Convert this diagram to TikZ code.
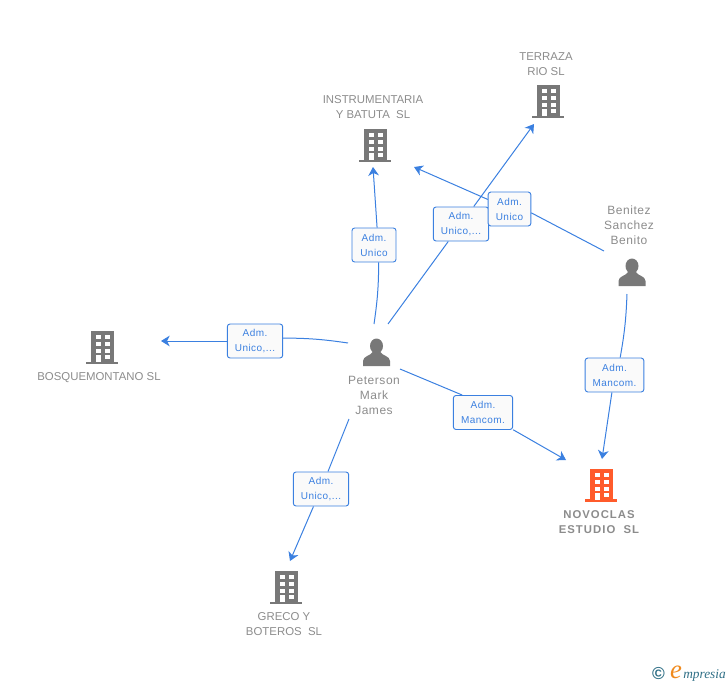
\documentclass[tikz,border=0pt]{standalone}
\usepackage{fontspec}
\setmainfont{Liberation Sans}
\newfontfamily\logofont{Liberation Serif}
\usetikzlibrary{arrows.meta}
\definecolor{linkblue}{HTML}{3B80E0}
\definecolor{icongray}{HTML}{787878}
\definecolor{textgray}{HTML}{8C8C8C}
\definecolor{iconred}{HTML}{FF5B2B}
\definecolor{logoteal}{HTML}{2F6F86}
\definecolor{logoorange}{HTML}{F08A1D}
\tikzset{
  pics/building/.style={code={
    \fill[#1] (-11.5,-16) rectangle (11.5,15);
    \fill[#1] (-16,14.5) rectangle (16,17);
    \foreach \wy in {-12,-5,2} {
      \fill[white] (-6.5,\wy) rectangle (-1.5,\wy+4);
      \fill[white] (2.5,\wy) rectangle (7.5,\wy+4);
    }
    \fill[white] (-6.5,8) rectangle (-1.5,15);
    \fill[white] (2.5,8) rectangle (7.5,12);
  }},
  pics/person/.style={code={
    \fill[icongray] (0,-6) ellipse [x radius=6.5, y radius=7.5];
    \fill[icongray] (-13.5,14) -- (-13.5,9) .. controls (-13.5,4) and (-6,4) .. (-4,0)
      -- (4,0) .. controls (6,4) and (13.5,4) .. (13.5,9) -- (13.5,14) -- cycle;
  }},
  nametext/.style={text=textgray, font=\fontsize{8.55pt}{11.25pt}\selectfont, align=center, inner sep=0pt},
  persontext/.style={nametext, font=\fontsize{9pt}{11.25pt}\selectfont\addfontfeature{LetterSpace=4.5}},
  role/.style={draw=linkblue, fill=black!2, rounded corners=2pt, line width=0.7pt, text=linkblue,
    font=\fontsize{7.5pt}{11.25pt}\selectfont\addfontfeature{LetterSpace=4.5}, align=center, inner sep=0pt, minimum height=25.5pt},
  link/.style={draw=linkblue, line width=0.75pt},
  linkto/.style={link, -{Stealth[length=6.5pt,width=8pt,inset=2pt]}},
}
\begin{document}
\begin{tikzpicture}[x=0.75pt,y=-0.75pt]
\useasboundingbox (0,0) rectangle (728,685);
% companies
\pic (terraza) at (548,101) {building=icongray};
\pic (instrumentaria) at (375,145) {building=icongray};
\pic (bosque) at (102,347) {building=icongray};
\pic (greco) at (286,587) {building=icongray};
\pic (novoclas) at (601,484.5) {building=iconred};
\node[nametext] (terrazaname) at (546,64) {TERRAZA\\RIO SL};
\node[nametext] (instrumentarianame) at (373,107) {INSTRUMENTARIA\\Y BATUTA\ \ SL};
\node[nametext] (bosquename) at (99,378) {BOSQUEMONTANO SL};
\node[nametext] (greconame) at (284,624) {GRECO Y\\BOTEROS\ \ SL};
\node[nametext, font=\fontsize{8.5pt}{11.25pt}\selectfont\bfseries\addfontfeature{LetterSpace=9}] (novoclasname) at (599,522) {NOVOCLAS\\ESTUDIO\ \ SL};
% people
\pic (benitez) at (632,272) {person};
\pic (peterson) at (376.5,352) {person};
\node[persontext] (benitezname) at (629,225) {Benitez\\Sanchez\\Benito};
\node[persontext] (petersonname) at (374,395) {Peterson\\Mark\\James};
% role boxes
\node[role, minimum width=33pt] (unicoa) at (374,245) {Adm.\\Unico};
\node[role, minimum width=41.5pt] (unicob) at (461,224) {Adm.\\Unico,...};
\node[role, minimum width=32pt] (unicoc) at (509.5,209) {Adm.\\Unico};
\node[role, minimum width=41.5pt] (unicod) at (255,341) {Adm.\\Unico,...};
\node[role, minimum width=44.5pt] (mancoma) at (483,412.5) {Adm.\\Mancom.};
\node[role, minimum width=44pt] (mancomb) at (614.5,375) {Adm.\\Mancom.};
\node[role, minimum width=41.5pt] (unicoe) at (321,489) {Adm.\\Unico,...};
% free ends
\coordinate (pa) at (374,324);
\coordinate (pb) at (388,324);
\coordinate (pd) at (348,343);
\coordinate (pm) at (400,369);
\coordinate (pe) at (349,419);
\coordinate (ba) at (604,251);
\coordinate (bb) at (627,294);
\coordinate (toinstr) at (373,167);
\coordinate (toinstrb) at (414,167);
\coordinate (toterraza) at (534,124);
\coordinate (tobosque) at (161,341);
\coordinate (tonovoa) at (566,460);
\coordinate (tonovob) at (602,459);
\coordinate (togreco) at (290,561);
% connectors
\draw[link] (pa) to[bend right=4] (unicoa.-75);
\draw[linkto] (unicoa.80) -- (toinstr);
\draw[link] (pb) -- (unicob);
\draw[linkto] (unicob) -- (toterraza);
\draw[link] (ba) -- (unicoc.-10);
\draw[linkto] (unicoc) -- (toinstrb);
\draw[link] (pd) to[bend right=4] (unicod.6);
\draw[linkto] (unicod) -- (tobosque);
\draw[link] (pm) -- (mancoma.140);
\draw[linkto] (mancoma) -- (tonovoa);
\draw[link] (bb) to[bend left=4] (mancomb.72);
\draw[linkto] (mancomb) -- (tonovob);
\draw[link] (pe) -- (unicoe);
\draw[linkto] (unicoe) -- (togreco);
% watermark
\node[inner sep=0pt, text=logoteal, font=\fontsize{13pt}{13pt}\selectfont\bfseries] (copyr) at (658.5,674) {©};
\node[inner sep=0pt, text=logoorange, font=\logofont\itshape\fontsize{20pt}{20pt}\selectfont] (logoe) at (676,672) {e};
\node[inner sep=0pt, anchor=west, text=logoteal, font=\logofont\itshape\fontsize{10pt}{10pt}\selectfont] (logotext) at (683,675) {mpresia};
\end{tikzpicture}
\end{document}
